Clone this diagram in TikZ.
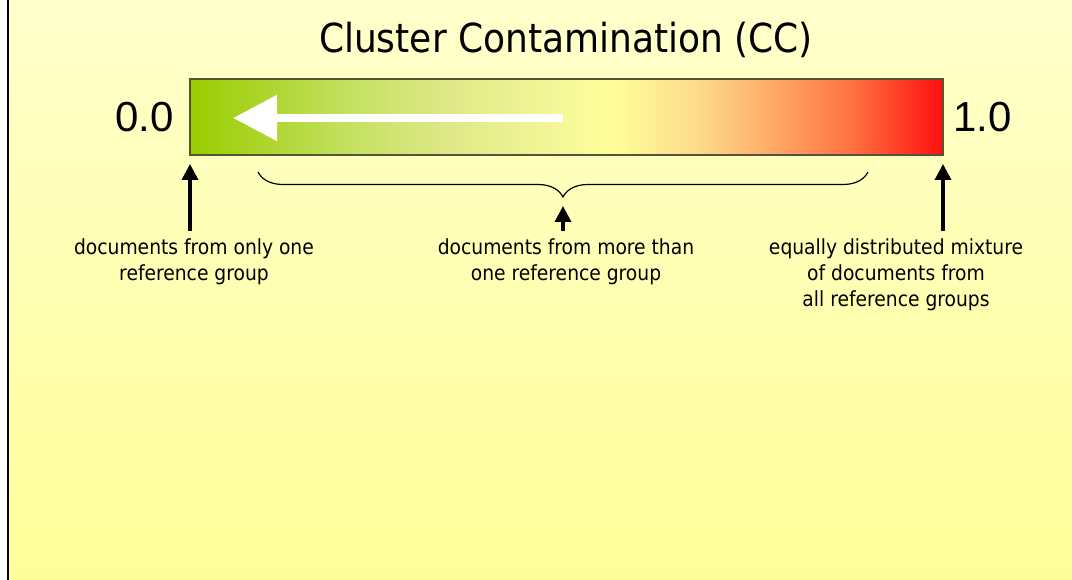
\documentclass[tikz,border=0pt]{standalone}
\usepackage{fontspec}
\setmainfont{DejaVu Sans Condensed}
\newfontfamily\numfont{Liberation Sans}
\usetikzlibrary{arrows.meta,decorations.pathreplacing}

% colour scale of the contamination bar: green -> pale yellow -> orange -> red
\pgfdeclarehorizontalshading{ccscale}{100bp}{%
  rgb(0bp)=(0.60,0.80,0.00);
  rgb(25bp)=(0.60,0.80,0.00);
  rgb(35.5bp)=(0.77,0.88,0.38);
  rgb(42bp)=(0.87,0.91,0.53);
  rgb(49.5bp)=(0.96,0.97,0.60);
  rgb(53bp)=(1.00,1.00,0.60);
  rgb(59bp)=(0.99,0.85,0.54);
  rgb(64.5bp)=(1.00,0.63,0.38);
  rgb(69bp)=(1.00,0.44,0.25);
  rgb(75bp)=(1.00,0.06,0.06);
  rgb(100bp)=(1.00,0.06,0.06)}

\definecolor{bgtop}{HTML}{FFFFCC}
\definecolor{bgbottom}{HTML}{FFFF99}
\definecolor{barframe}{HTML}{555533}

\tikzset{
  title/.style={font=\fontsize{40}{46}\selectfont, inner sep=0pt},
  endval/.style={font=\numfont\fontsize{42}{48}\selectfont, inner sep=0pt},
  caption/.style={font=\fontsize{20.8}{26}\selectfont, align=center, inner sep=0pt, anchor=north},
  pointer/.style={line width=3.5pt, -{Triangle[length=16pt,width=16pt]}},
  bracestyle/.style={line width=1.2pt, decorate,
    decoration={brace, mirror, amplitude=25pt}},
}

\begin{document}
\begin{tikzpicture}[x=1pt,y=-1pt]
  \useasboundingbox (0,0) rectangle (1072,580);
  % page background with its left margin rule
  \fill[white] (0,0) rectangle (1072,580);
  \shade[top color=bgtop, bottom color=bgbottom] (8,0) rectangle (1072,580);
  \draw[line width=2pt] (8,0) -- (8,580);

  \node[title] (ttl) at (566,40) {Cluster Contamination (CC)};

  % the colour bar
  \shade[shading=ccscale] (190,79) rectangle (943,155);
  \draw[barframe, line width=1.5pt] (190,79) rectangle (943,155);
  \node[inner sep=0pt, minimum width=753pt, minimum height=76pt] (bar) at (566.5,117) {};

  % white direction arrow inside the bar
  \coordinate (wstart) at (563,118);
  \coordinate (wend) at (233,118);
  \draw[white, line width=8pt, -{Triangle[length=44pt,width=44pt]}] (wstart) -- (wend);

  \node[endval, anchor=east] (zero) at (174,117) {0.0};
  \node[endval, anchor=west] (one) at (953,117) {1.0};

  % brace over the interior of the scale
  \coordinate (bl) at (258,172);
  \coordinate (br) at (868,172);
  \draw[bracestyle] (bl) -- (br);

  % captions
  \node[caption] (lcap) at (194,238) {documents from only one\\reference group};
  \node[caption] (mcap) at (566,238) {documents from more than\\one reference group};
  \node[caption] (rcap) at (896,238) {equally distributed mixture\\of documents from\\all reference groups};

  % pointers from captions up to the scale
  \coordinate (ltip) at (190,164);
  \coordinate (mtip) at (563,206);
  \coordinate (rtip) at (943,164);
  \draw[pointer] (lcap.north -| ltip) ++(0,-7) -- (ltip);
  \draw[pointer] (mcap.north -| mtip) ++(0,-7) -- (mtip);
  \draw[pointer] (rcap.north -| rtip) ++(0,-7) -- (rtip);
\end{tikzpicture}
\end{document}
